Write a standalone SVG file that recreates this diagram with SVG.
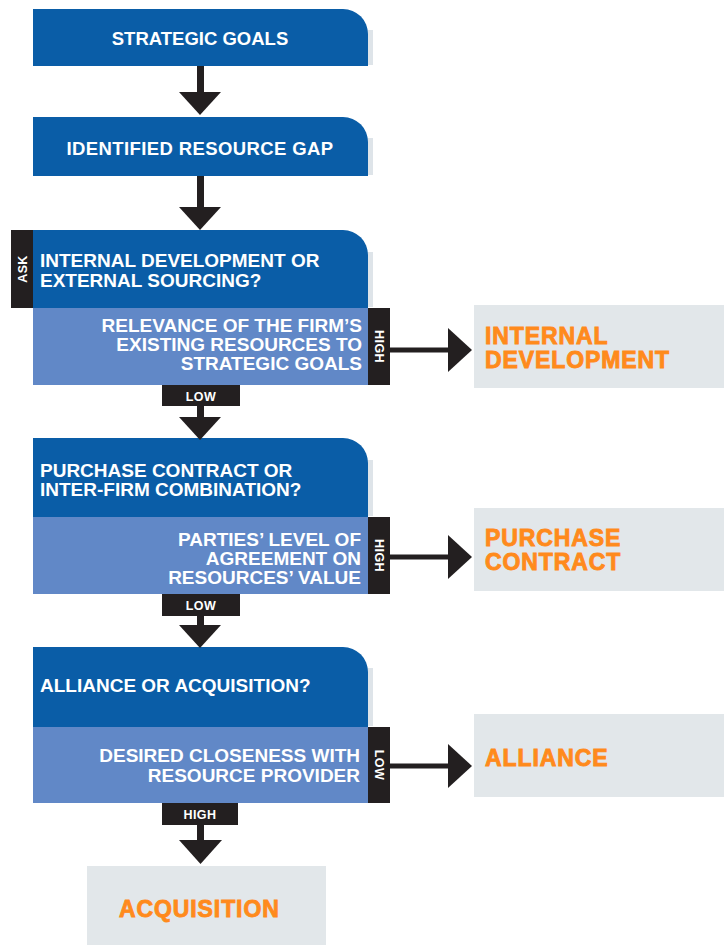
<svg xmlns="http://www.w3.org/2000/svg" width="724" height="945" viewBox="0 0 724 945">
  <style>
    .dark { fill: #0A5DA7; }
    .light { fill: #6188C7; }
    .tab { fill: #231F20; }
    .result { fill: #E2E7EA; }
    .edge { fill: #DEE4E9; }
    .wt { font-family: "Liberation Sans", Arial, sans-serif; font-weight: bold; fill: #FFFFFF; font-size: 19px; }
    .tt { font-family: "Liberation Sans", Arial, sans-serif; font-weight: bold; fill: #FFFFFF; font-size: 12.5px; text-anchor: middle; letter-spacing: 0.4px; }
    .ot { font-family: "Liberation Sans", Arial, sans-serif; font-weight: bold; fill: #FF8A1C; stroke: #FF8A1C; stroke-width: 0.9px; font-size: 23px; letter-spacing: 0.9px; }
    .conn { fill: #231F20; }
  </style>

  <!-- Step 1 -->
  <g id="strategic-goals">
    <rect class="edge" x="366" y="30" width="7" height="35"/>
    <path class="dark" d="M33 9 H343 A25 25 0 0 1 368 34 V66 H33 Z"/>
    <text class="wt" x="200" y="45" text-anchor="middle" style="font-size:18.5px">STRATEGIC GOALS</text>
  </g>

  <!-- Step 2 -->
  <g id="resource-gap">
    <rect class="edge" x="366" y="138" width="7" height="37"/>
    <path class="dark" d="M33 117 H343 A25 25 0 0 1 368 142 V176 H33 Z"/>
    <text class="wt" x="200" y="154.5" text-anchor="middle" style="font-size:18.5px;letter-spacing:0.4px">IDENTIFIED RESOURCE GAP</text>
  </g>

  <!-- Decision 1 -->
  <g id="decision-internal-external">
    <rect class="edge" x="366" y="252" width="7" height="55"/>
    <path class="dark" d="M33 230 H343 A25 25 0 0 1 368 255 V308 H33 Z"/>
    <rect class="tab" x="11" y="230" width="22" height="78"/>
    <text class="tt" transform="translate(26.5 269) rotate(-90)">ASK</text>
    <text class="wt" x="40" y="267">INTERNAL DEVELOPMENT OR</text>
    <text class="wt" x="40" y="287">EXTERNAL SOURCING?</text>
    <rect class="light" x="33" y="308" width="335" height="77"/>
    <text class="wt" x="362" y="332" text-anchor="end">RELEVANCE OF THE FIRM’S</text>
    <text class="wt" x="362" y="351" text-anchor="end">EXISTING RESOURCES TO</text>
    <text class="wt" x="362" y="370" text-anchor="end">STRATEGIC GOALS</text>
    <rect class="tab" x="368" y="308" width="22" height="77"/>
    <text class="tt" transform="translate(374.5 346.5) rotate(90)">HIGH</text>
    <rect class="tab" x="162" y="385" width="78" height="21"/>
    <text class="tt" x="201" y="400.5">LOW</text>
  </g>

  <!-- Decision 2 -->
  <g id="decision-contract-combination">
    <rect class="edge" x="366" y="460" width="7" height="56"/>
    <path class="dark" d="M33 438 H343 A25 25 0 0 1 368 463 V517 H33 Z"/>
    <text class="wt" x="40" y="477">PURCHASE CONTRACT OR</text>
    <text class="wt" x="40" y="496">INTER-FIRM COMBINATION?</text>
    <rect class="light" x="33" y="517" width="335" height="77"/>
    <text class="wt" x="361" y="546" text-anchor="end">PARTIES’ LEVEL OF</text>
    <text class="wt" x="361" y="565" text-anchor="end">AGREEMENT ON</text>
    <text class="wt" x="361" y="584" text-anchor="end">RESOURCES’ VALUE</text>
    <rect class="tab" x="368" y="517" width="22" height="77"/>
    <text class="tt" transform="translate(374.5 555.5) rotate(90)">HIGH</text>
    <rect class="tab" x="162" y="594" width="78" height="22"/>
    <text class="tt" x="201" y="610">LOW</text>
  </g>

  <!-- Decision 3 -->
  <g id="decision-alliance-acquisition">
    <rect class="edge" x="366" y="668" width="7" height="58"/>
    <path class="dark" d="M33 647 H343 A25 25 0 0 1 368 672 V727 H33 Z"/>
    <text class="wt" x="40" y="692">ALLIANCE OR ACQUISITION?</text>
    <rect class="light" x="33" y="727" width="335" height="76"/>
    <text class="wt" x="360" y="762" text-anchor="end">DESIRED CLOSENESS WITH</text>
    <text class="wt" x="360" y="782" text-anchor="end">RESOURCE PROVIDER</text>
    <rect class="tab" x="368" y="727" width="22" height="76"/>
    <text class="tt" transform="translate(374.5 765) rotate(90)">LOW</text>
    <rect class="tab" x="162" y="803" width="76" height="22"/>
    <text class="tt" x="200" y="818.5">HIGH</text>
  </g>

  <!-- Outcomes -->
  <g id="internal-development">
    <rect class="result" x="474" y="305" width="250" height="83"/>
    <text class="ot" x="485" y="344">INTERNAL</text>
    <text class="ot" x="485" y="368">DEVELOPMENT</text>
  </g>
  <g id="purchase-contract">
    <rect class="result" x="474" y="508" width="250" height="83"/>
    <text class="ot" x="485" y="546">PURCHASE</text>
    <text class="ot" x="485" y="570">CONTRACT</text>
  </g>
  <g id="alliance">
    <rect class="result" x="474" y="714" width="250" height="83"/>
    <text class="ot" x="485" y="766">ALLIANCE</text>
  </g>
  <g id="acquisition">
    <rect class="result" x="87" y="866" width="239" height="79"/>
    <text class="ot" x="119" y="917">ACQUISITION</text>
  </g>

  <!-- Connectors -->
  <g id="connectors">
    <rect class="conn" x="197" y="66" width="7" height="28"/>
    <path class="conn" d="M179 92 H221 L200 115 Z"/>
    <rect class="conn" x="197" y="176" width="7" height="32"/>
    <path class="conn" d="M179 207 H221 L200 230 Z"/>
    <rect class="conn" x="197" y="406" width="7" height="12"/>
    <path class="conn" d="M179 417 H221 L200 440 Z"/>
    <rect class="conn" x="197" y="616" width="7" height="11"/>
    <path class="conn" d="M179 625 H221 L200 648 Z"/>
    <rect class="conn" x="197" y="825" width="7" height="16"/>
    <path class="conn" d="M179 840 H222 L200.5 864 Z"/>

    <rect class="conn" x="390" y="347.5" width="60" height="5"/>
    <path class="conn" d="M448 328 L472 350 L448 372 Z"/>
    <rect class="conn" x="390" y="554.5" width="60" height="5"/>
    <path class="conn" d="M448 535 L472 557 L448 579 Z"/>
    <rect class="conn" x="390" y="763.5" width="60" height="5"/>
    <path class="conn" d="M448 744 L472 766 L448 788 Z"/>
  </g>
</svg>
